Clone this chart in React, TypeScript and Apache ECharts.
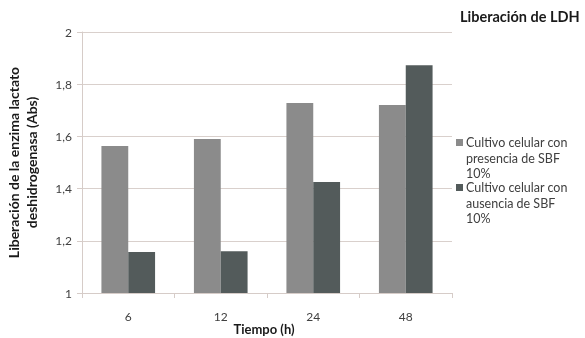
import React, { useEffect, useRef } from "react";
import * as echarts from "echarts";

const categories = ["6", "12", "24", "48"];
const seriesNames = [
  "Cultivo celular con\npresencia de SBF\n10%",
  "Cultivo celular con\nausencia de SBF\n10%",
];
const presencia = [1.563, 1.59, 1.728, 1.72];
const ausencia = [1.157, 1.16, 1.425, 1.873];
const colors = ["#8b8b8b", "#535b5b"];
const yTicks = { min: 1, max: 2, interval: 0.2 };
const title = "Liberación de LDH";
const yName = "Liberación de la enzima lactato\ndeshidrogenasa (Abs)";
const xName = "Tiempo (h)";

const FONT = "Lato, 'Open Sans', sans-serif";

export default function App() {
  const ref = useRef<HTMLDivElement>(null);
  useEffect(() => {
    if (!ref.current) return;
    const chart = echarts.init(ref.current, undefined, { renderer: "svg" });
    const legendY = [143, 188];
    const graphic: any[] = [
      {
        type: "text",
        left: 460,
        top: 9,
        style: { text: title, font: `bold 14.5px ${FONT}`, fill: "#1a1a1a" },
      },
    ];
    seriesNames.forEach((n, i) => {
      graphic.push({
        type: "rect",
        shape: { x: 456, y: legendY[i] - 4, width: 7, height: 7 },
        style: { fill: colors[i] },
      });
      graphic.push({
        type: "text",
        x: 466,
        y: legendY[i] - 8,
        style: {
          text: n,
          font: `12.5px ${FONT}`,
          fill: "#404040",
          lineHeight: 15.5,
        },
      });
    });
    chart.setOption({
      animation: false,
      textStyle: { fontFamily: FONT },
      grid: {
        left: 82,
        right: 133,
        top: 32,
        bottom: 45,
        containLabel: false,
        outerBoundsMode: "none",
      },
      xAxis: {
        type: "category",
        data: categories,
        name: xName,
        nameLocation: "middle",
        nameGap: 29,
        nameMoveOverlap: false,
        nameTextStyle: {
          fontWeight: "bold",
          fontSize: 13,
          color: "#1a1a1a",
          lineHeight: 14,
          padding: [0, 6, 0, 0],
        },
        axisLine: { lineStyle: { color: "#d6ccc8" } },
        axisTick: { show: true, length: 5, lineStyle: { color: "#d6ccc8" } },
        axisLabel: { color: "#404040", fontSize: 12, margin: 17 },
      },
      yAxis: {
        type: "value",
        min: yTicks.min,
        max: yTicks.max,
        interval: yTicks.interval,
        name: yName,
        nameLocation: "middle",
        nameGap: 42,
        nameMoveOverlap: false,
        nameTextStyle: { fontWeight: "bold", fontSize: 14, color: "#1a1a1a", lineHeight: 18 },
        axisLine: { show: true, lineStyle: { color: "#d6ccc8" } },
        axisTick: { show: true, length: 5, lineStyle: { color: "#d6ccc8" } },
        splitLine: { lineStyle: { color: "#d9d0cc" } },
        axisLabel: {
          color: "#404040",
          fontSize: 12,
          margin: 10,
          formatter: (v: number) => String(Math.round(v * 10) / 10).replace(".", ","),
        },
      },
      series: [
        {
          type: "bar",
          name: seriesNames[0],
          data: presencia,
          itemStyle: { color: colors[0] },
          barGap: "0%",
          barCategoryGap: "42%",
        },
        {
          type: "bar",
          name: seriesNames[1],
          data: ausencia,
          itemStyle: { color: colors[1] },
          barGap: "0%",
          barCategoryGap: "42%",
        },
      ],
      graphic,
    });
    return () => chart.dispose();
  }, []);
  return (
    <div
      ref={ref}
      style={{ position: "fixed", left: 0, top: 0, width: 585, height: 338 }}
    />
  );
}
